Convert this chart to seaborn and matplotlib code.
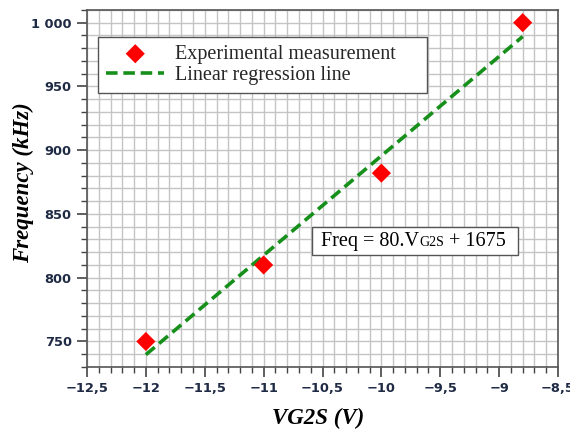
import numpy as np
import pandas as pd
import matplotlib
matplotlib.use("Agg")
import matplotlib.pyplot as plt
import matplotlib.ticker as mticker
from matplotlib.offsetbox import TextArea, HPacker, AnchoredOffsetbox, DrawingArea
import seaborn as sns

# data
vg2s = [-12.0, -11.0, -10.0, -8.8]
freq = [750, 810, 882, 1000]
x_ticks = [-12.5, -12, -11.5, -11, -10.5, -10, -9.5, -9, -8.5]
y_ticks = [750, 800, 850, 900, 950, 1000]

df = pd.DataFrame({"VG2S": vg2s, "Freq": freq})

sns.set_style("white")
plt.rcParams['font.family'] = ['DejaVu Sans']

fig = plt.figure(figsize=(5.7, 4.3), dpi=100)
ax = fig.add_axes([0.1526, 0.1465, 0.8264, 0.8305])

tick_col = "#1f2a44"
serif = ['Liberation Serif', 'DejaVu Serif']

sns.regplot(data=df, x="VG2S", y="Freq", ax=ax, scatter=False, ci=None,
            truncate=True, label="Linear regression line",
            line_kws={"color": "#16901a", "ls": (0, (3.2, 1.6)), "lw": 2.6,
                      "zorder": 3})
sns.scatterplot(data=df, x="VG2S", y="Freq", ax=ax, marker="D", color="#ff0000",
                s=95, edgecolor="none", zorder=4, label="Experimental measurement")

ax.set_xlim(-12.5, -8.5)
ax.set_ylim(730, 1010)
ax.set_xticks(x_ticks)
ax.set_yticks(y_ticks)
ax.xaxis.set_minor_locator(mticker.MultipleLocator(0.1))
ax.yaxis.set_minor_locator(mticker.MultipleLocator(10))

def fmt_x(v, pos):
    s = ("%g" % v).replace(".", ",").replace("-", "\u2212")
    return s

def fmt_y(v, pos):
    return "{:,}".format(int(v)).replace(",", " ")

ax.xaxis.set_major_formatter(mticker.FuncFormatter(fmt_x))
ax.yaxis.set_major_formatter(mticker.FuncFormatter(fmt_y))

ax.grid(True, which="both", color="#c4c4c4", lw=1.0, zorder=0)
ax.set_axisbelow(True)

for side in ["left", "bottom", "right", "top"]:
    ax.spines[side].set_color("#555555")
    ax.spines[side].set_linewidth(1.2)

ax.tick_params(axis="both", which="major", direction="out", length=7, width=1.2,
               color="#444444", labelsize=9.4, labelcolor=tick_col, pad=4)
ax.tick_params(axis="both", which="minor", direction="out", length=4, width=1.0,
               color="#444444")
ax.tick_params(axis="x", which="both", bottom=True, top=False)
ax.tick_params(axis="y", which="both", left=True, right=False)
for lab in ax.get_xticklabels() + ax.get_yticklabels():
    lab.set_fontweight("bold")

ax.set_xlabel("VG2S (V)", family=serif, fontsize=16.5, fontweight="bold",
              fontstyle="italic", color="black")
ax.set_ylabel("Frequency (kHz)", family=serif, fontsize=16.5, fontweight="bold",
              fontstyle="italic", color="black")
ax.xaxis.set_label_coords(0.4915, -0.143)
ax.xaxis.label.set_va("center")
ax.yaxis.set_label_coords(-0.134, 0.515)
ax.yaxis.label.set_va("center")

h, l = ax.get_legend_handles_labels()
order = [l.index("Experimental measurement"), l.index("Linear regression line")]
leg = ax.legend([h[i] for i in order], [l[i] for i in order],
                loc="upper left", bbox_to_anchor=(0.0234, 0.776, 0.6985, 0.1485),
                mode="expand",
                prop={"family": serif, "size": 14.5}, fancybox=False,
                frameon=True, edgecolor="#555555", framealpha=1,
                borderpad=0.4, handlelength=2.9, handletextpad=0.5,
                labelspacing=0.1, markerscale=1.0, borderaxespad=0)
leg.get_frame().set_linewidth(1.0)

# equation box
t1 = TextArea("Freq = 80.V", textprops=dict(family=serif, size=14.5, color="black"))
t2 = TextArea("G2S", textprops=dict(family=serif, size=10, color="black"))
t3 = TextArea(" + 1675", textprops=dict(family=serif, size=14.5, color="black"))
box = HPacker(children=[DrawingArea(3, 1), t1, t2, t3, DrawingArea(6, 1)],
              align="baseline", pad=0, sep=0)
anch = AnchoredOffsetbox(loc="upper left", child=box, pad=0.33, borderpad=0,
                         frameon=True, bbox_to_anchor=(0.478, 0.392),
                         bbox_transform=ax.transAxes)
anch.patch.set_edgecolor("#555555")
anch.patch.set_linewidth(1.0)
anch.patch.set_boxstyle("square", pad=0)
ax.add_artist(anch)

fig.savefig("out.png", dpi=100)
